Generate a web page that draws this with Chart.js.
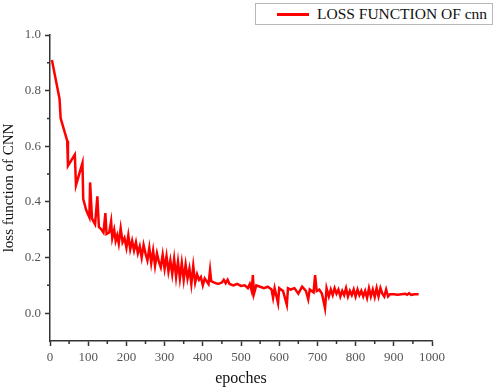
<!DOCTYPE html>
<html lang="en">
<head>
  <meta charset="UTF-8" />
  <title>Loss function of CNN</title>
  <script src="https://cdn.jsdelivr.net/npm/chart.js"></script>
  <style>
    body { margin: 0; background: #fff; }
    #wrap { position: relative; width: 498px; height: 390px; }
    #legend {
      position: absolute; left: 255px; top: 3px; width: 236px; height: 20px;
      border: 1px solid #b8b8b8; background: #fff;
      font-family: "Liberation Serif", serif; font-size: 15.5px; color: #111;
      display: flex; align-items: center; white-space: nowrap; overflow: hidden;
    }
    #legend .swatch { display: inline-block; flex: none; width: 32px; height: 3px; background: #ff0000; margin: 0 8px 0 21px; }
  </style>
</head>
<body>
  <div id="wrap">
    <canvas id="lossChart" width="498" height="390"></canvas>
    <div id="legend"><span class="swatch"></span><span>LOSS FUNCTION OF cnn</span></div>
  </div>

  <script>
    // values
    const epochs = [
      5, 25, 28, 45, 47, 65, 68, 85, 87, 95, 103, 105, 110, 118, 124, 128, 135, 140, 145, 148,
      155, 160, 163, 168, 172, 176, 180, 185, 190, 195, 200, 205, 210, 215, 220, 225, 230, 235, 240, 245,
      250, 255, 260, 265, 270, 275, 280, 285, 290, 295, 300, 305, 310, 315, 320, 325, 330, 335, 340, 345,
      350, 355, 360, 365, 370, 375, 380, 385, 390, 395, 400, 405, 410, 415, 419, 422, 430, 440, 450, 455,
      460, 465, 470, 480, 490, 500, 510, 518, 523, 528, 531, 534, 540, 550, 560, 570, 580, 584, 588, 597,
      600, 610, 620, 623, 630, 640, 650, 660, 670, 676, 680, 690, 694, 698, 705, 712, 720, 724, 730, 735,
      740, 745, 750, 755, 760, 765, 770, 775, 780, 785, 790, 795, 800, 805, 810, 815, 820, 825, 830, 835,
      840, 845, 850, 855, 860, 865, 870, 875, 880, 885, 890, 900, 910, 920, 930, 935, 940, 945, 955, 965
    ];
    const loss = [
      0.91, 0.77, 0.70, 0.62, 0.53, 0.57, 0.46, 0.54, 0.41, 0.37, 0.345, 0.47, 0.34, 0.32, 0.42, 0.31, 0.30, 0.29, 0.36, 0.285,
      0.29, 0.33, 0.27, 0.30, 0.26, 0.28, 0.25, 0.305, 0.255, 0.27, 0.235, 0.28, 0.23, 0.26, 0.225, 0.255, 0.215, 0.24, 0.20, 0.245,
      0.215, 0.19, 0.235, 0.18, 0.225, 0.17, 0.215, 0.185, 0.165, 0.21, 0.16, 0.205, 0.15, 0.19, 0.14, 0.195, 0.13, 0.185, 0.125, 0.18,
      0.12, 0.175, 0.125, 0.16, 0.105, 0.17, 0.11, 0.14, 0.12, 0.13, 0.10, 0.125, 0.115, 0.105, 0.155, 0.115, 0.11, 0.105, 0.11, 0.12,
      0.108, 0.12, 0.105, 0.10, 0.105, 0.098, 0.10, 0.09, 0.105, 0.08, 0.137, 0.07, 0.10, 0.095, 0.09, 0.095, 0.085, 0.055, 0.09, 0.036,
      0.09, 0.08, 0.03, 0.09, 0.085, 0.09, 0.07, 0.095, 0.08, 0.05, 0.085, 0.075, 0.137, 0.08, 0.085, 0.07, 0.018, 0.09, 0.06, 0.085,
      0.065, 0.09, 0.07, 0.085, 0.06, 0.08, 0.065, 0.09, 0.06, 0.08, 0.065, 0.085, 0.06, 0.085, 0.065, 0.08, 0.06, 0.08, 0.055, 0.09,
      0.06, 0.085, 0.058, 0.09, 0.06, 0.09, 0.07, 0.06, 0.085, 0.06, 0.068, 0.068, 0.066, 0.068, 0.07, 0.066, 0.072, 0.066, 0.068, 0.068
    ];
    const yTicks = [0, 0.2, 0.4, 0.6, 0.8, 1.0];
    const xMinor = [50, 150, 250, 350, 450, 550, 650, 750, 850, 950];
    const yMinor = [0.1, 0.3, 0.5, 0.7, 0.9];

    const axisColor = '#333';
    const labelFont = { family: 'Liberation Serif', size: 13 };
    const titleFont = { family: 'Liberation Serif', size: 16 };

    // short minor tick marks
    const minorTicks = {
      id: 'minorTicks',
      afterDraw(chart) {
        const ctx = chart.ctx;
        const xs = chart.scales.x, ys = chart.scales.y;
        ctx.save();
        ctx.strokeStyle = axisColor;
        ctx.lineWidth = 1.5;
        ctx.beginPath();
        xMinor.forEach(v => {
          const px = xs.getPixelForValue(v);
          ctx.moveTo(px, xs.top);
          ctx.lineTo(px, xs.top + 3);
        });
        yMinor.forEach(v => {
          const py = ys.getPixelForValue(v);
          ctx.moveTo(ys.right, py);
          ctx.lineTo(ys.right - 3, py);
        });
        ctx.stroke();
        ctx.restore();
      }
    };

    new Chart(document.getElementById('lossChart'), {
      type: 'line',
      data: {
        datasets: [{
          label: 'LOSS FUNCTION OF cnn',
          data: epochs.map((e, i) => ({ x: e, y: loss[i] })),
          borderColor: '#ff0000',
          borderWidth: 2.5,
          pointRadius: 0,
          tension: 0,
          fill: false
        }]
      },
      options: {
        responsive: false,
        animation: false,
        layout: { padding: { top: 35, right: 66, left: 0, bottom: 0 } },
        plugins: { legend: { display: false }, tooltip: { enabled: false } },
        scales: {
          x: {
            type: 'linear',
            min: 0, max: 1000,
            ticks: { stepSize: 100, color: '#555', font: labelFont, padding: 4, maxRotation: 0, callback: v => String(v) },
            grid: { drawOnChartArea: false, tickLength: 5, tickColor: axisColor, tickWidth: 1.5 },
            border: { color: axisColor, width: 1.5 },
            title: { display: true, text: 'epoches', color: '#111', font: titleFont, padding: { top: 4, bottom: 2 } },
            afterFit(scale) { scale.height = 49; }
          },
          y: {
            min: -0.1, max: 1.0,
            afterBuildTicks(scale) { scale.ticks = yTicks.map(v => ({ value: v })); },
            ticks: { color: '#555', font: labelFont, padding: 4, callback: v => v.toFixed(1) },
            grid: { drawOnChartArea: false, tickLength: 5, tickColor: axisColor, tickWidth: 1.5 },
            border: { color: axisColor, width: 1.5 },
            title: { display: true, text: 'loss function of CNN', color: '#111', font: { family: 'Liberation Serif', size: 15 }, padding: { top: 0, bottom: 0 } },
            afterFit(scale) { scale.width = 50; }
          }
        }
      },
      plugins: [minorTicks]
    });
  </script>
</body>
</html>
